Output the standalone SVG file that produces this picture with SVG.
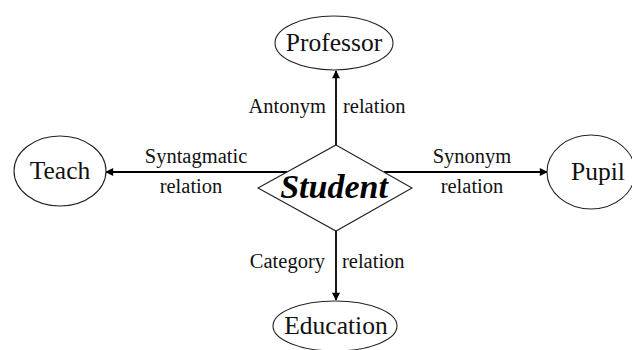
<svg xmlns="http://www.w3.org/2000/svg" width="632" height="350" viewBox="0 0 632 350">
<defs>
<marker id="ah" viewBox="0 0 10 10" refX="9" refY="5" markerWidth="9" markerHeight="8" markerUnits="userSpaceOnUse" orient="auto">
<path d="M0,0 L10,5 L0,10 z" fill="#000"/>
</marker>
<style>
.node{fill:#fff;stroke:#222;stroke-width:1.1}
.nt{font-family:"Liberation Serif","Times New Roman",serif;font-size:25.5px;fill:#111;text-anchor:middle}
.lb{font-family:"Liberation Serif","Times New Roman",serif;font-size:20.5px;fill:#111}
.edge{stroke:#000;stroke-width:1.8;fill:none;marker-end:url(#ah)}
</style>
</defs>
<rect width="632" height="350" fill="#fff"/>
<g id="connectors">
<line class="edge" x1="336" y1="145" x2="336" y2="71"/>
<line class="edge" x1="336" y1="231" x2="336" y2="300"/>
<line class="edge" x1="288" y1="172" x2="106" y2="172"/>
<line class="edge" x1="384" y1="172" x2="547" y2="172"/>
<text class="lb" x="326" y="113" text-anchor="end">Antonym</text>
<text class="lb" x="343" y="113">relation</text>
<text class="lb" x="325" y="268" text-anchor="end">Category</text>
<text class="lb" x="342" y="268">relation</text>
<text class="lb" x="196" y="163" text-anchor="middle">Syntagmatic</text>
<text class="lb" x="191" y="193" text-anchor="middle">relation</text>
<text class="lb" x="472" y="163" text-anchor="middle">Synonym</text>
<text class="lb" x="472" y="193" text-anchor="middle">relation</text>
</g>
<g id="student">
<polygon class="node" points="336,145 412,188 336,231 258,188"/>
<text x="334" y="198" font-family="'Liberation Serif','Times New Roman',serif" font-size="34" font-weight="bold" font-style="italic" text-anchor="middle" fill="#000">Student</text>
</g>
<g id="professor">
<ellipse class="node" cx="334" cy="43" rx="59" ry="27"/>
<text class="nt" x="334" y="51">Professor</text>
</g>
<g id="teach">
<ellipse class="node" cx="60" cy="171" rx="46" ry="35"/>
<text class="nt" x="60" y="179">Teach</text>
</g>
<g id="pupil">
<ellipse class="node" cx="591" cy="172" rx="44" ry="37"/>
<text class="nt" x="598" y="180">Pupil</text>
</g>
<g id="education">
<ellipse class="node" cx="335" cy="326" rx="62" ry="25"/>
<text class="nt" x="336" y="334">Education</text>
</g>
</svg>
